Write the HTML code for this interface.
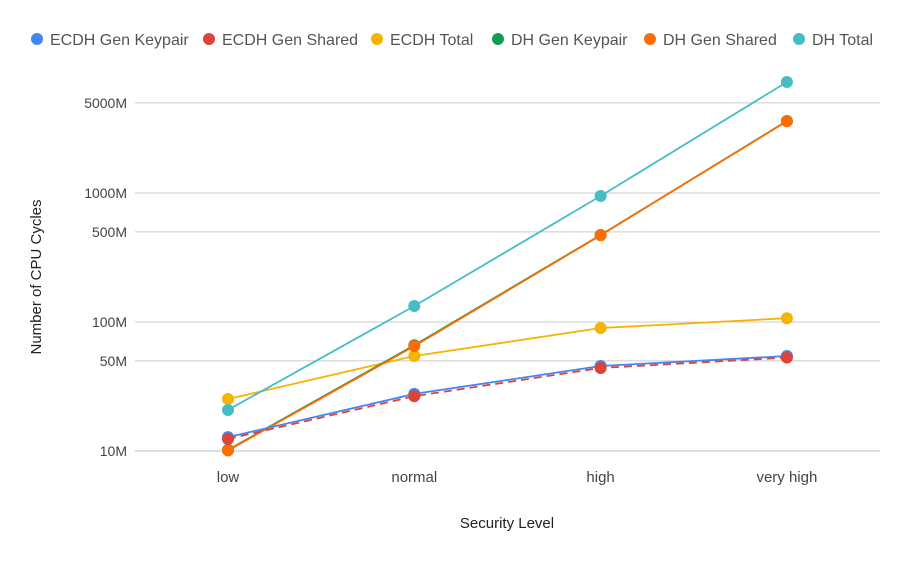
<!DOCTYPE html>
<html><head><meta charset="utf-8"><style>
body{margin:0;background:#fff;font-family:"Liberation Sans",sans-serif;}
</style></head><body>
<svg id="c" width="908" height="561" xmlns="http://www.w3.org/2000/svg"></svg>
<script>
const categories=["low","normal","high","very high"];
const seriesNames=["ECDH Gen Keypair","ECDH Gen Shared","ECDH Total","DH Gen Keypair","DH Gen Shared","DH Total"];
const ecdhKeypair=[12.8,27.7,45.6,54.5];
const ecdhShared=[12.4,26.6,44,53];
const ecdhTotal=[25.3,54.5,89.8,107];
const dhKeypair=[10.2,66,472,3614];
const dhShared=[10.1,65,470,3600];
const dhTotal=[20.8,133,948,7250];
const yTicks=[10,50,100,500,1000,5000];
const yTickLabels=["10M","50M","100M","500M","1000M","5000M"];
const colors=["#4285F4","#DB4437","#F4B400","#0F9D58","#FF6D00","#46BDC6"];
const allSeries=[ecdhKeypair,ecdhShared,ecdhTotal,dhKeypair,dhShared,dhTotal];
const svg=document.getElementById('c');const NS="http://www.w3.org/2000/svg";
function mk(t,a,p){const e=document.createElementNS(NS,t);for(const k in a)e.setAttribute(k,a[k]);(p||svg).appendChild(e);return e;}
function x(i){return 228+i*186.3;}
function y(v){return 451-Math.log10(v/10)*129;}
yTicks.forEach((v,i)=>{
 const l=mk('line',{x1:135,x2:880,y1:y(v),y2:y(v),stroke:i==0?'#bbb':'#ccc','stroke-width':1});
 
 
 const t=mk('text',{x:127,y:y(v)+5,'text-anchor':'end','font-size':14,fill:'#444'});
 t.textContent=yTickLabels[i];
 
 
});
categories.forEach((c,i)=>{
 const t=mk('text',{x:x(i),y:482,'text-anchor':'middle','font-size':15,fill:'#444'});
 t.textContent=c;
 
 
});
const xt=mk('text',{x:507,y:528,'text-anchor':'middle','font-size':15,fill:'#222'});xt.textContent="Security Level";


const yt=mk('text',{x:0,y:0,'text-anchor':'middle','font-size':15,fill:'#222',transform:'translate(41,277) rotate(-90)'});yt.textContent="Number of CPU Cycles";


const legX=[37,209,377,498,650,799];
seriesNames.forEach((n,i)=>{
 const g=mk('g',{});
 
 
 mk('circle',{cx:legX[i],cy:39,r:6,fill:colors[i]},g);
 const t=mk('text',{x:legX[i]+13,y:45,'font-size':16,fill:'#555'},g);t.textContent=n;
});
const order=[2,5,3,4,0,1];
order.forEach(si=>{
 const d=allSeries[si];
 const g=mk('g',{});
 
 
 const pts=d.map((v,i)=>x(i)+','+y(v)).join(' ');
 const attrs={points:pts,fill:'none',stroke:colors[si],'stroke-width':1.8};
 if(si==1)attrs['stroke-dasharray']='8,5';
 mk('polyline',attrs,g);
 d.forEach((v,i)=>{const c=mk('circle',{cx:x(i),cy:y(v),r:6,fill:colors[si]},g);
  
  });
});
</script>
</body></html>
